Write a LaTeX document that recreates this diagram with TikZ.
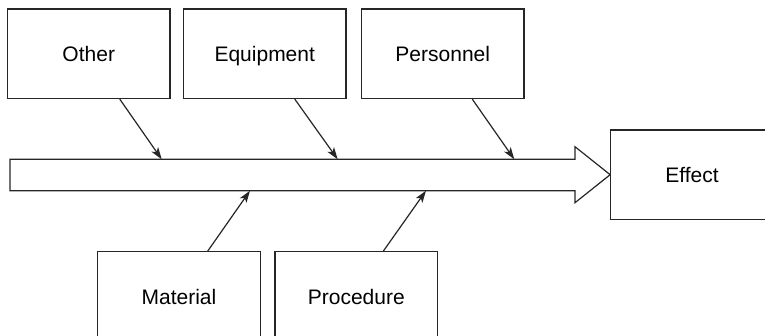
\documentclass[tikz,border=0pt]{standalone}
\usepackage{fontspec}
\setmainfont{Liberation Sans}
\usetikzlibrary{arrows.meta}
\begin{document}
\begin{tikzpicture}[x=1pt, y=-1pt, line width=1.2pt, draw=black!85,
    cause/.style={draw, rectangle, minimum width=162.5pt, minimum height=89.5pt, inner sep=0pt, text height=15pt, text depth=0pt, font=\fontsize{21}{25}\selectfont},
    feed/.style={-{Stealth[length=12pt, width=8pt, inset=3pt]}}]
    \useasboundingbox (0,0) rectangle (765,335);
    \clip (0,0) rectangle (765,335);

    \node[cause] (other) at (88.75,53.75) {Other};
    \node[cause] (equip) at (264.75,53.75) {Equipment};
    \node[cause] (person) at (442.75,53.75) {Personnel};
    \node[cause] (effect) at (692,174.7) {Effect};
    \node[cause] (material) at (179,296.5) {Material};
    \node[cause] (proc) at (356.3,296.5) {Procedure};

    % spine
    \draw (10,159.3) -- (575,159.3) -- (575,146.7) -- (effect.west) -- (575,202.7) -- (575,190.7) -- (10,190.7) -- cycle;

    \coordinate (oth-in) at (161.7,159.3);
    \coordinate (equ-in) at (337.7,159.3);
    \coordinate (per-in) at (514.3,159.3);
    \coordinate (mat-in) at (250,190.7);
    \coordinate (pro-in) at (426,190.7);

    \draw[feed] ([xshift=31pt]other.south) -- (oth-in);
    \draw[feed] ([xshift=30pt]equip.south) -- (equ-in);
    \draw[feed] ([xshift=29.5pt]person.south) -- (per-in);
    \draw[feed] ([xshift=28.7pt]material.north) -- (mat-in);
    \draw[feed] ([xshift=27pt]proc.north) -- (pro-in);
\end{tikzpicture}
\end{document}
